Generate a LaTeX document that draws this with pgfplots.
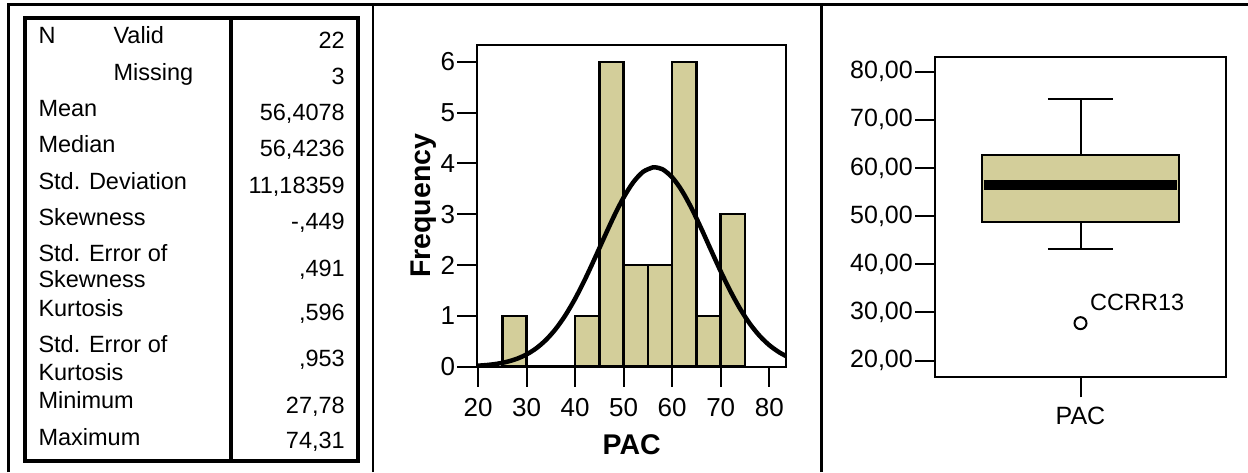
\documentclass[border=0pt]{standalone}
\usepackage{pgfplots}
\pgfplotsset{compat=1.18}
\usepackage{fontspec}
\setmainfont{Liberation Sans}
\definecolor{spssfill}{RGB}{211,206,154}
\begin{document}
\begin{tikzpicture}[x=1pt,y=1pt]
\useasboundingbox (0pt,0pt) rectangle (1248pt,472pt);
% outer frame
\draw[line width=2.3pt] (8.5pt,0pt) -- (8.5pt,467.5pt) -- (1248pt,467.5pt);
\draw[line width=2.5pt] (373pt,0pt) -- (373pt,467.5pt);
\draw[line width=2.7pt] (821.7pt,0pt) -- (821.7pt,467.5pt);
% statistics table
\draw[line width=4pt] (25pt,11pt) rectangle (358pt,454.3pt);
\draw[line width=4pt] (230.5pt,11pt) -- (230.5pt,454.3pt);
\begin{scope}[every node/.style={inner sep=0pt, font=\fontsize{23.5}{28}\selectfont}]
\node[anchor=base west] at (38.3pt,428pt) {N};
\node[anchor=base west] at (113.3pt,428pt) {Valid};
\node[anchor=base west] at (113.3pt,391.5pt) {Missing};
\node[anchor=base west] at (38.3pt,355.3pt) {Mean};
\node[anchor=base west] at (38.3pt,319.3pt) {Median};
\node[anchor=base west] at (38.3pt,282.7pt) {Std. Deviation};
\node[anchor=base west] at (38.3pt,246.7pt) {Skewness};
\node[anchor=base west] at (38.3pt,210.3pt) {Std. Error of};
\node[anchor=base west] at (38.3pt,184.3pt) {Skewness};
\node[anchor=base west] at (38.3pt,155.3pt) {Kurtosis};
\node[anchor=base west] at (38.3pt,120pt) {Std. Error of};
\node[anchor=base west] at (38.3pt,92pt) {Kurtosis};
\node[anchor=base west] at (38.3pt,63.7pt) {Minimum};
\node[anchor=base west] at (38.3pt,27pt) {Maximum};
\node[anchor=base east] at (345pt,423.7pt) {22};
\node[anchor=base east] at (345pt,387.7pt) {3};
\node[anchor=base east] at (345pt,351pt) {56,4078};
\node[anchor=base east] at (345pt,315.3pt) {56,4236};
\node[anchor=base east] at (345pt,278.7pt) {11,18359};
\node[anchor=base east] at (345pt,242pt) {-,449};
\node[anchor=base east] at (345pt,196pt) {,491};
\node[anchor=base east] at (345pt,152pt) {,596};
\node[anchor=base east] at (345pt,106pt) {,953};
\node[anchor=base east] at (345pt,58.7pt) {27,78};
\node[anchor=base east] at (345pt,23.7pt) {74,31};
\end{scope}
% histogram
\begin{axis}[at={(477.3pt,105.3pt)}, anchor=south west, scale only axis,
  width=308.7pt, height=321.7pt,
  xmin=19.85, xmax=83.45, ymin=0, ymax=6.33,
  xtick={20,30,...,80}, ytick={0,...,6},
  xtick pos=lower, ytick pos=left, tick align=outside, major tick length=20pt,
  axis line style={line width=2pt},
  tick style={line width=2pt, black},
  ticklabel style={font=\fontsize{26}{30}\selectfont, inner sep=2pt},
  xticklabel style={yshift=-9pt},
  /pgf/number format/assume math mode=true,
  xlabel={PAC}, ylabel={Frequency},
  label style={font=\fontsize{28.5}{32}\selectfont\bfseries},
  xlabel style={at={(axis description cs:0.5,-0.272)}, anchor=base},
  ylabel style={at={(axis description cs:-0.152,0.5)}, anchor=base},
]
\addplot[ybar interval, fill=spssfill, draw=black, line width=2.5pt]
  coordinates {(25,1) (30,0) (35,0) (40,1) (45,6) (50,2) (55,2) (60,6) (65,1) (70,3) (75,3)};
\addplot[smooth, line width=4.5pt, black] coordinates {
(19.85,0.019) (22,0.0345) (24,0.0589) (26,0.0974) (28,0.1558) (30,0.2415)
(32,0.3625) (34,0.5274) (36,0.7425) (38,1.0125) (40,1.3374) (42,1.7114)
(44,2.1207) (46,2.5453) (48,2.9582) (50,3.3302) (52,3.6312) (54,3.8344)
(56,3.9217) (56.4,3.9243) (58,3.8847) (60,3.7269) (62,3.4632) (64,3.1167)
(66,2.7165) (68,2.2934) (70,1.8751) (72,1.4850) (74,1.1388) (76,0.8457)
(78,0.6087) (80,0.4242) (82,0.2861) (83.45,0.2100)};
\end{axis}
% boxplot
\begin{axis}[at={(935pt,94.7pt)}, anchor=south west, scale only axis,
  width=291pt, height=320pt,
  xmin=0, xmax=2, ymin=16.54, ymax=82.98,
  xtick={1}, xticklabels={PAC}, ytick={20,30,...,80},
  xtick pos=lower, ytick pos=left, tick align=outside, major tick length=20pt,
  axis line style={line width=2pt},
  tick style={line width=2pt, black},
  ticklabel style={font=\fontsize{25}{30}\selectfont, inner sep=2pt},
  xticklabel style={yshift=-8pt},
  /pgf/number format/assume math mode=true,
  /pgf/number format/fixed, /pgf/number format/fixed zerofill,
  /pgf/number format/precision=2, /pgf/number format/use comma,
]
% whiskers
\addplot[black, line width=2pt] coordinates {(1,62.7) (1,74.31)};
\addplot[black, line width=2pt] coordinates {(0.7765,74.31) (1.2235,74.31)};
\addplot[black, line width=2pt] coordinates {(1,48.8) (1,43.26)};
\addplot[black, line width=2pt] coordinates {(0.7765,43.26) (1.2235,43.26)};
% box (Q1 to Q3)
\addplot[fill=spssfill, draw=black, line width=2pt]
  coordinates {(0.323,48.8) (1.677,48.8) (1.677,62.7) (0.323,62.7)} -- cycle;
% median
\addplot[black, line width=10pt] coordinates {(0.335,56.42) (1.665,56.42)};
% outlier
\addplot[only marks, mark=o, mark size=6pt, mark options={line width=2pt, fill=white, draw=black}]
  coordinates {(1,27.78)};
\node[anchor=base west, inner sep=0pt, font=\fontsize{23.5}{28}\selectfont]
  at (axis cs:1.065,30.5) {CCRR13};
\end{axis}
\end{tikzpicture}
\end{document}
